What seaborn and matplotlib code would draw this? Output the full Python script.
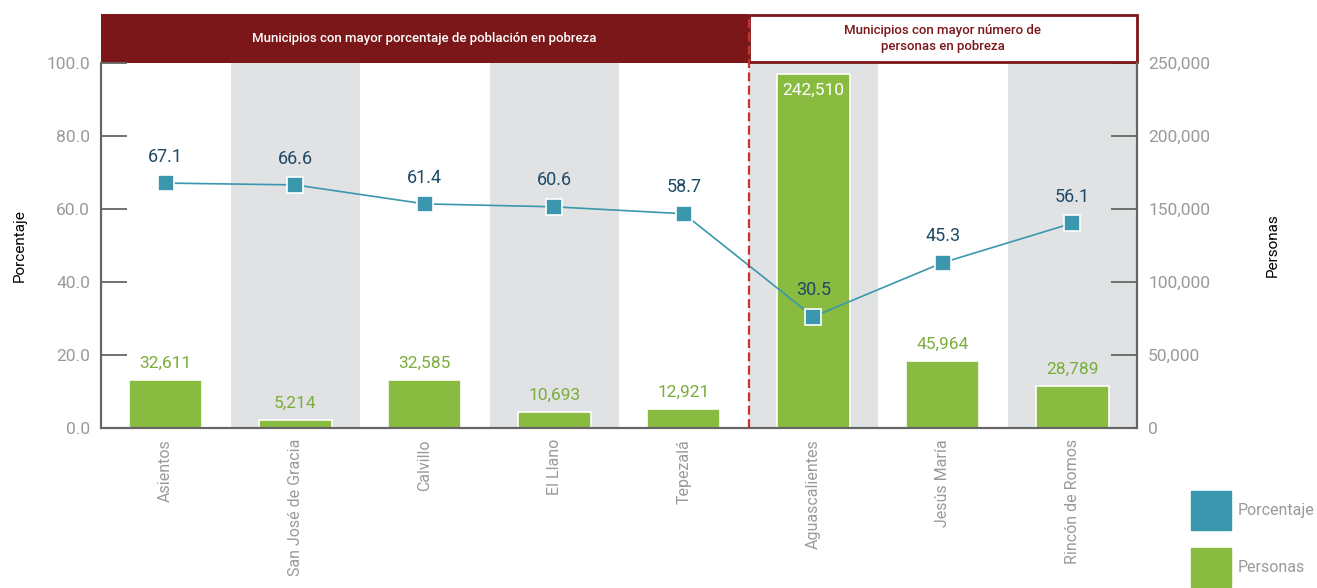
import seaborn as sns
import matplotlib.pyplot as plt
from matplotlib.patches import Patch, Rectangle
from matplotlib.ticker import FuncFormatter

municipios = ['Asientos', 'San José de Gracia', 'Calvillo', 'El Llano', 'Tepezalá',
              'Aguascalientes', 'Jesús María', 'Rincón de Romos']
porcentaje = [67.1, 66.6, 61.4, 60.6, 58.7, 30.5, 45.3, 56.1]
personas = [32611, 5214, 32585, 10693, 12921, 242510, 45964, 28789]
titulo_izq = 'Municipios con mayor porcentaje de población en pobreza'
titulo_der = 'Municipios con mayor número de\npersonas en pobreza'

teal = '#3a97ad'
green = '#88bb3f'
darkred = '#7b1619'
gray_band = '#e1e2e4'
tick_gray = '#9a9a9a'
spine_gray = '#666666'

sns.set_style('white')
plt.rcParams['font.family'] = ['Roboto', 'DejaVu Sans']

fig = plt.figure(figsize=(13.17, 5.88), dpi=100)
ax = fig.add_axes([101 / 1317, 1 - 428 / 588, 1036 / 1317, 365 / 588])

# gray background bands on alternate categories
for i in range(1, len(municipios), 2):
    ax.axvspan(i - 0.5, i + 0.5, color=gray_band, lw=0, zorder=0)

sns.barplot(x=municipios, y=personas, color=green, width=0.56, edgecolor='white',
            linewidth=1.2, saturation=1, ax=ax, zorder=2)

for i, v in enumerate(personas):
    if v > 200000:
        ax.annotate(f'{v:,}', (i, v), xytext=(0, -12), textcoords='offset points',
                    ha='center', va='center', color='white', fontsize=12.5)
    else:
        ax.annotate(f'{v:,}', (i, v), xytext=(0, 12), textcoords='offset points',
                    ha='center', va='center', color='#7aad3a', fontsize=12.5)

ax2 = ax.twinx()
sns.pointplot(x=municipios, y=porcentaje, color=teal, markers='s', markersize=11,
              linewidth=1.2, markeredgecolor='white', markeredgewidth=1.2,
              errorbar=None, ax=ax2)

for i, v in enumerate(porcentaje):
    ax2.annotate(f'{v:.1f}', (i, v), xytext=(0, 19), textcoords='offset points',
                 ha='center', va='center', color='#1d4a66', fontsize=13)

# bars (personas) read on the right, line (porcentaje) on the left
ax.set_xlim(-0.5, len(municipios) - 0.5)
ax2.set_xlim(-0.5, len(municipios) - 0.5)
ax.set_ylim(0, 250000)
ax2.set_ylim(0, 100)
ax.yaxis.tick_right()
ax.yaxis.set_label_position('right')
ax2.yaxis.tick_left()
ax2.yaxis.set_label_position('left')
ax.set_yticks(range(0, 250001, 50000))
ax.yaxis.set_major_formatter(FuncFormatter(lambda v, p: f'{int(v):,}'))
ax2.set_yticks(range(0, 101, 20))
ax2.yaxis.set_major_formatter(FuncFormatter(lambda v, p: f'{v:.1f}'))
ax.set_ylabel('Personas', fontsize=11, color='black', labelpad=40)
ax2.set_ylabel('Porcentaje', fontsize=11, color='black', labelpad=14)

ax.tick_params(axis='y', direction='in', length=19, width=1.3, color=spine_gray,
               labelsize=12.5, labelcolor=tick_gray, pad=8)
ax2.tick_params(axis='y', direction='in', length=19, width=1.3, color=spine_gray,
                labelsize=12.5, labelcolor=tick_gray, pad=8)
ax.set_xticks(range(len(municipios)))
ax.set_xticklabels(municipios, rotation=90)
ax.tick_params(axis='x', which='major', length=0, labelsize=11.5, labelcolor=tick_gray, pad=8)
ax.set_xticks([i + 0.5 for i in range(len(municipios) - 1)], minor=True)
ax.tick_params(axis='x', which='minor', direction='in', length=6, width=1.3, color=spine_gray)
ax2.tick_params(axis='x', length=0, labelbottom=False)
ax.set_xlabel('')
ax2.set_xlabel('')

for a in (ax, ax2):
    for s in a.spines.values():
        s.set_color(spine_gray)
        s.set_linewidth(1.5)
    a.spines['top'].set_visible(False)
ax2.patch.set_visible(False)

# header bands
split = 4.5
htop = 414 / 365
ax.add_patch(Rectangle((-0.5, 1), split + 0.5, htop - 1, transform=ax.get_xaxis_transform(),
                       facecolor=darkred, edgecolor='none', clip_on=False, zorder=3))
ax.add_patch(Rectangle((split, 1.004), 7.5 - split, htop - 1.008,
                       transform=ax.get_xaxis_transform(),
                       facecolor='white', edgecolor=darkred, lw=2, clip_on=False, zorder=3))
ax.text((split - 0.5) / 2, (1 + htop) / 2, titulo_izq, transform=ax.get_xaxis_transform(),
        ha='center', va='center', color='white', fontsize=9.5, fontweight='medium', zorder=4)
ax.text((split + 7.5) / 2, (1 + htop) / 2, titulo_der, transform=ax.get_xaxis_transform(),
        ha='center', va='center', color=darkred, fontsize=9.5, fontweight='medium',
        linespacing=1.3, zorder=4)

# divider between the two groups
ax2.plot([split, split], [0, htop], transform=ax2.get_xaxis_transform(), color='#c9312e',
         lw=1.6, ls=(0, (4, 2)), clip_on=False, zorder=5)

handles = [Patch(color=teal, label='Porcentaje'), Patch(color=green, label='Personas')]
fig.legend(handles=handles, loc='upper left', bbox_to_anchor=(1191 / 1317, 1 - 491 / 588),
           frameon=False, handlelength=2.5, handleheight=3.4, labelspacing=1.1,
           fontsize=11.5, labelcolor=tick_gray, handletextpad=0.4,
           borderpad=0, borderaxespad=0)

fig.savefig('out.png', dpi=100)
